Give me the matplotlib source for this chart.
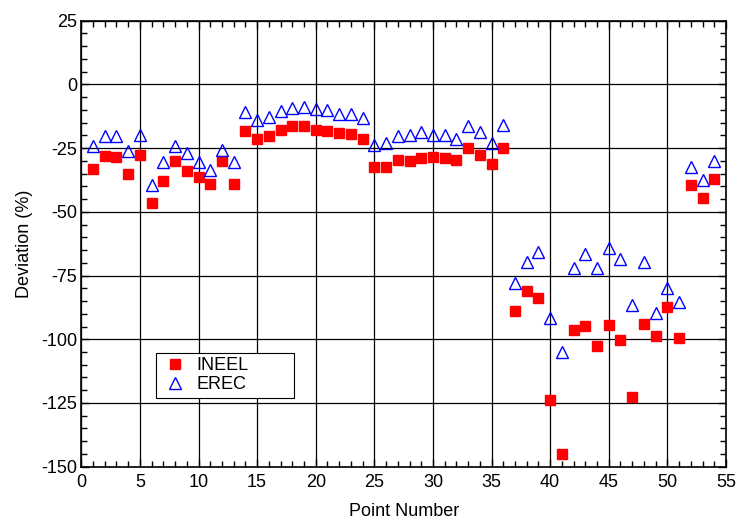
import numpy as np
import matplotlib.pyplot as plt
from matplotlib.ticker import MultipleLocator

plt.rcParams['font.family'] = ['Liberation Sans', 'DejaVu Sans']
plt.rcParams['axes.unicode_minus'] = False

points = np.arange(1, 55)

ineel = [-33.0, -28.1, -28.5, -35.1, -27.7, -46.4, -38.0, -30.0, -34.1, -36.4,
         -39.1, -30.2, -39.1, -18.4, -21.5, -20.3, -17.9, -16.3, -16.4, -17.9,
         -18.2, -19.2, -19.5, -21.6, -32.5, -32.3, -29.8, -30.2, -28.8, -28.6,
         -28.8, -29.7, -25.0, -27.8, -31.1, -25.0, -88.8, -81.2, -84.0, -123.9,
         -145.2, -96.5, -94.9, -102.8, -94.5, -100.4, -122.7, -94.1, -98.6, -87.2,
         -99.5, -39.4, -44.5, -37.1]

erec = [-24.0, -20.3, -20.3, -26.2, -20.0, -39.6, -30.5, -24.3, -26.8, -30.4,
        -33.5, -25.6, -30.4, -10.9, -14.1, -12.9, -10.4, -9.2, -8.8, -9.7,
        -10.2, -11.7, -11.8, -13.1, -23.7, -22.9, -20.3, -19.8, -18.7, -20.0,
        -19.8, -21.6, -16.3, -18.8, -22.8, -16.0, -77.9, -69.6, -65.9, -91.8,
        -105.1, -72.1, -66.4, -72.1, -64.0, -68.5, -86.7, -69.8, -89.6, -79.9,
        -85.5, -32.5, -37.5, -30.0]

fig = plt.figure(figsize=(7.39, 5.24), dpi=100)
ax = fig.add_axes([0.110, 0.1094, 0.8724, 0.8511])

ax.plot(points, ineel, 's', color='red', markersize=6.8, linestyle='none',
        label='INEEL', zorder=3)
ax.plot(points, erec, '^', markerfacecolor='none', markeredgecolor='blue',
        markeredgewidth=1.0, markersize=8, linestyle='none', label='EREC', zorder=3)

ax.set_xlim(0, 55)
ax.set_ylim(-150, 25)
ax.xaxis.set_major_locator(MultipleLocator(5))
ax.xaxis.set_minor_locator(MultipleLocator(1))
ax.yaxis.set_major_locator(MultipleLocator(25))
ax.yaxis.set_minor_locator(MultipleLocator(5))

ax.tick_params(which='both', direction='in', top=True, right=True,
               labelsize=13, width=1)
ax.tick_params(which='major', length=6)
ax.tick_params(which='minor', length=4)
ax.tick_params(axis='x', pad=5)
ax.tick_params(axis='y', pad=3)
ax.grid(which='major', color='black', linewidth=0.9)
for s in ax.spines.values():
    s.set_linewidth(1.2)

ax.set_xlabel('Point Number', fontsize=13, labelpad=9)
ax.set_ylabel('Deviation (%)', fontsize=13, labelpad=6)

leg = ax.legend(loc='upper left', bbox_to_anchor=(0.116, 0.168, 0.214, 0.087),
                mode='expand', borderaxespad=0,
                fancybox=False, edgecolor='black', framealpha=1, fontsize=13,
                handletextpad=0.4, borderpad=0.25, labelspacing=0.1,
                handlelength=1.6)
leg.get_frame().set_linewidth(0.8)
leg.set_zorder(5)

plt.savefig('out.png', dpi=100)
